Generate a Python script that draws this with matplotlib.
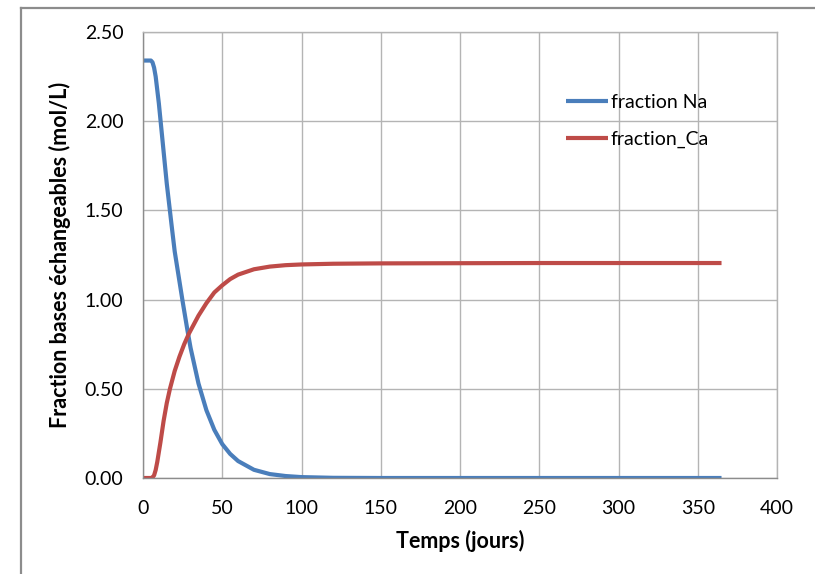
import numpy as np
import matplotlib
matplotlib.use("Agg")
import matplotlib.pyplot as plt
from matplotlib.lines import Line2D

# values (days, mol/L)
days_na = [0, 3, 5, 6, 7, 8, 10, 12, 15, 18, 20, 25, 28, 30, 35, 40, 45, 50,
           55, 60, 70, 80, 90, 100, 120, 150, 200, 250, 300, 365]
frac_na = [2.34, 2.34, 2.34, 2.33, 2.30, 2.25, 2.10, 1.92, 1.65, 1.42, 1.27, 0.99, 0.83, 0.73,
           0.53, 0.38, 0.27, 0.19, 0.135, 0.095, 0.046, 0.022, 0.011, 0.005, 0.001, 0.0,
           0.0, 0.0, 0.0, 0.0]

days_ca = [0, 5, 6, 7, 8, 9, 11, 13, 15, 17, 20, 23, 26, 29, 32, 35, 40, 45, 50,
           55, 60, 70, 80, 90, 100, 120, 150, 200, 250, 300, 365]
frac_ca = [0.0, 0.0, 0.003, 0.015, 0.045, 0.09, 0.2, 0.32, 0.42, 0.50, 0.60, 0.68, 0.75, 0.81,
           0.86, 0.91, 0.98, 1.04, 1.08, 1.115, 1.14, 1.17, 1.185, 1.193, 1.197, 1.201, 1.203,
           1.204, 1.205, 1.205, 1.205]

x_ticks = [0, 50, 100, 150, 200, 250, 300, 350, 400]
y_ticks = [0.0, 0.5, 1.0, 1.5, 2.0, 2.5]

plt.rcParams["font.family"] = ["Lato", "DejaVu Sans"]

fig = plt.figure(figsize=(8.15, 5.74), dpi=100)
ax = fig.add_axes([143 / 815, 96 / 574, 634 / 815, 446 / 574])

# outer chart frame (only top and left visible in the crop)
fig.add_artist(Line2D([21 / 815, 1.0], [1 - 7.5 / 574, 1 - 7.5 / 574], color="#8c8c8c", lw=1.6,
                      transform=fig.transFigure))
fig.add_artist(Line2D([21 / 815, 21 / 815], [0, 1 - 7.5 / 574], color="#8c8c8c", lw=1.6,
                      transform=fig.transFigure))

ax.plot(days_na, frac_na, color="#4a7ebb", lw=3, label="fraction Na", solid_capstyle="butt")
ax.plot(days_ca, frac_ca, color="#be4b48", lw=3, label="fraction_Ca", solid_capstyle="butt")

ax.set_xlim(0, 400); ax.set_ylim(0, 2.5)
ax.set_xticks(x_ticks); ax.set_yticks(y_ticks)
ax.set_yticklabels([f"{v:.2f}" for v in y_ticks])
ax.grid(True, color="#b4b4b4", lw=1)
ax.set_axisbelow(True)
ax.tick_params(length=0, labelsize=14, colors="black")
ax.tick_params(axis="y", pad=14)
ax.tick_params(axis="x", pad=16)
for s in ("top", "right"):
    ax.spines[s].set_color("#b4b4b4")
for s in ("left", "bottom"):
    ax.spines[s].set_color("#8c8c8c")
for s in ax.spines.values():
    s.set_linewidth(1)

ax.set_xlabel("Temps (jours)", fontsize=15.5, fontweight="bold", labelpad=9)
ax.set_ylabel("Fraction bases échangeables (mol/L)", fontsize=15.5, fontweight="bold", labelpad=10)

ax.legend(loc="upper left", bbox_to_anchor=(0.655, 0.878), frameon=False, fontsize=14,
          handlelength=2.15, handletextpad=0.15, labelspacing=1.0, borderaxespad=0)

fig.savefig("out.png", dpi=100)
